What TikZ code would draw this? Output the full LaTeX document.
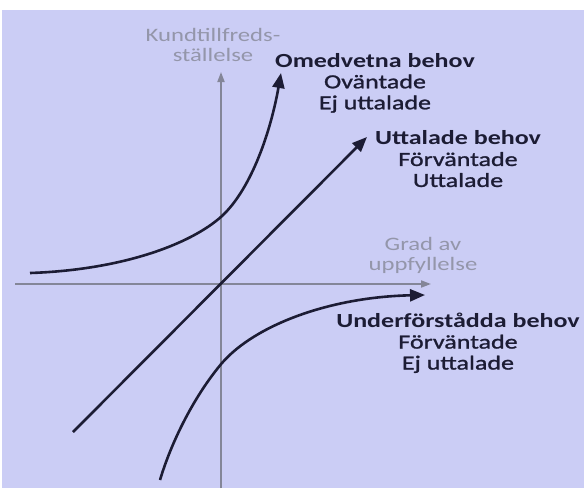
\documentclass[tikz,border=0pt]{standalone}
\usepackage{fontspec}
\setmainfont{Carlito}[FakeStretch=1.3]
\newfontfamily\needfont{Carlito}[FakeStretch=1.3, FakeBold=1.2]
\usepackage{xcolor}
\usepackage{tikz}
\usetikzlibrary{arrows.meta}

\definecolor{bgblue}{RGB}{203,205,245}
\definecolor{inkblue}{RGB}{28,28,52}
\definecolor{axisgray}{RGB}{132,134,152}
\definecolor{labelgray}{RGB}{148,150,170}
\newcommand{\headline}[1]{{\rmfamily\bfseries #1}}

\begin{document}
\begin{tikzpicture}[
      x=1pt, y=-1pt,
      axis/.style={draw=axisgray, line width=1.8pt, -{Triangle[length=10pt,width=7pt]}},
      curve/.style={draw=inkblue, line width=2.6pt, -{Triangle[length=15pt,width=12pt]}},
      axislabel/.style={text=labelgray, font=\fontsize{19}{20}\selectfont, align=center, inner sep=0pt},
      need/.style={text=inkblue, font=\needfont\fontsize{20}{21}\selectfont, align=center, inner sep=0pt}
    ]
    \useasboundingbox (0,0) rectangle (584,488);
    \fill[white] (0,0) rectangle (584,488);
    \fill[bgblue] (2,10) rectangle (584,488);

    \coordinate (origin) at (221,284);
    \coordinate (ybot) at (221,488);
    \coordinate (ytop) at (221,72);
    \coordinate (xleft) at (15,284);
    \coordinate (xright) at (431,284);

    \node[axislabel] (ylabel) at (213,45) {Kundtillfreds-\\ställelse};
    \node[axislabel] (xlabel) at (423,255) {Grad av\\uppfyllelse};

    \node[need] (unaware) at (375,83) {\headline{Omedvetna behov}\\Oväntade\\Ej uttalade};
    \node[need] (spoken) at (458,159) {\headline{Uttalade behov}\\Förväntade\\Uttalade};
    \node[need] (implied) at (458,343) {\headline{Underförstådda behov}\\Förväntade\\Ej uttalade};

    \coordinate (unawareA) at (30,273);
    \coordinate (unawareB) at (281,73);
    \coordinate (spokenA) at (73,432);
    \coordinate (spokenB) at (367,137);
    \coordinate (impliedA) at (160,480);
    \coordinate (impliedB) at (425,295);

    \draw[axis] (ybot) -- (ytop);
    \draw[axis] (xleft) -- (xright);

    \draw[curve] (unawareA) .. controls (120,270) and (190,245) .. (222,216)
      .. controls (252,188) and (271,130) .. (unawareB);
    \draw[curve] (spokenA) -- (spokenB);
    \draw[curve] (impliedA) .. controls (172,440) and (195,395) .. (222,363)
      .. controls (255,325) and (330,297) .. (impliedB);
  \end{tikzpicture}
\end{document}
